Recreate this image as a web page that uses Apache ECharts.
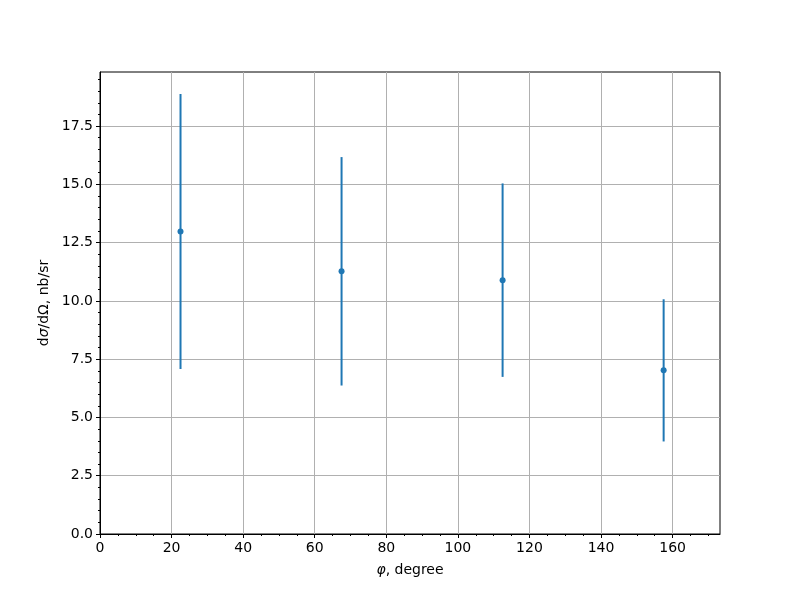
<!DOCTYPE html>
<html>
<head>
<meta charset="utf-8">
<script src="https://cdn.jsdelivr.net/npm/echarts@6/dist/echarts.min.js"></script>
<style>html,body{margin:0;padding:0;background:#fff;}#c{width:800px;height:600px;}</style>
</head>
<body>
<div id="c"></div>
<script>
// Data
const phi = [22.5, 67.5, 112.5, 157.5];
const xsec = [12.98, 11.27, 10.89, 7.02];
const err = [5.9, 4.9, 4.15, 3.05];
const xTickLabels = [0, 20, 40, 60, 80, 100, 120, 140, 160];
const yTickLabels = [0, 2.5, 5, 7.5, 10, 12.5, 15, 17.5];
const xMinorTicks = [5,10,15,25,30,35,45,50,55,65,70,75,85,90,95,105,110,115,125,130,135,145,150,155,165,170];
const yMinorTicks = [0.5,1,1.5,2,3,3.5,4,4.5,5.5,6,6.5,7,8,8.5,9,9.5,10.5,11,11.5,12,13,13.5,14,14.5,15.5,16,16.5,17,18,18.5,19,19.5];
const xMax = 173.25;
const yMax = 19.82;

const C = '#1f77b4';
const font = 'DejaVu Sans';
const chart = echarts.init(document.getElementById('c'), null, {renderer: 'canvas'});

const pts = phi.map((x, i) => [x, xsec[i]]);
const bars = phi.map((x, i) => [x, xsec[i] - err[i], xsec[i] + err[i]]);

const baseAxis = {
  type: 'value'
};

chart.setOption({
  animation: false,
  backgroundColor: '#fff',
  grid: {left: 100, right: 80, top: 72, bottom: 66, show: true, borderColor: '#000', borderWidth: 1, backgroundColor: 'transparent'},
  xAxis: [{
    type: 'value', min: 0, max: xMax, position: 'bottom',
    name: '{i|φ}, degree', nameLocation: 'middle', nameGap: 29,
    nameTextStyle: {fontFamily: font, fontSize: 14, color: '#000', rich: {i: {fontFamily: font, fontStyle: 'italic', fontSize: 14, color: '#000'}}},
    axisLine: {show: true, onZero: false, lineStyle: {color: '#000', width: 1}},
    axisTick: {show: true, inside: false, length: 4, customValues: xTickLabels, lineStyle: {color: '#000', width: 1}},
    axisLabel: {show: true, margin: 7, customValues: xTickLabels, fontFamily: font, fontSize: 14, color: '#000'},
    splitLine: {show: true, lineStyle: {color: '#b0b0b0', width: 1}},
    minorTick: {show: false}
  }, {
    type: 'value', min: 0, max: xMax, position: 'bottom',
    axisLine: {show: false},
    axisTick: {show: true, inside: false, length: 2, customValues: xMinorTicks, lineStyle: {color: '#000', width: 1}},
    axisLabel: {show: false},
    splitLine: {show: false}
  }],
  yAxis: [{
    type: 'value', min: 0, max: yMax, position: 'left',
    name: 'd{i|σ}/dΩ, nb/sr', nameLocation: 'middle', nameGap: 47, nameRotate: 90,
    nameTextStyle: {fontFamily: font, fontSize: 14, color: '#000', rich: {i: {fontFamily: font, fontStyle: 'italic', fontSize: 14, color: '#000'}}},
    axisLine: {show: true, onZero: false, lineStyle: {color: '#000', width: 1}},
    axisTick: {show: true, inside: false, length: 4, customValues: yTickLabels, lineStyle: {color: '#000', width: 1}},
    axisLabel: {show: true, margin: 7, customValues: yTickLabels, fontFamily: font, fontSize: 14, color: '#000', formatter: v => Number(v).toFixed(1)},
    splitLine: {show: true, lineStyle: {color: '#b0b0b0', width: 1}}
  }, {
    type: 'value', min: 0, max: yMax, position: 'left',
    axisLine: {show: false},
    axisTick: {show: true, inside: false, length: 2, customValues: yMinorTicks, lineStyle: {color: '#000', width: 1}},
    axisLabel: {show: false},
    splitLine: {show: false}
  }],
  series: [{
    type: 'custom',
    xAxisIndex: 0, yAxisIndex: 0,
    data: bars,
    renderItem: function (params, api) {
      const x = api.value(0);
      const lo = api.coord([x, api.value(1)]);
      const hi = api.coord([x, api.value(2)]);
      return {
        type: 'line',
        shape: {x1: lo[0], y1: lo[1], x2: hi[0], y2: hi[1]},
        style: {stroke: C, lineWidth: 2}
      };
    },
    z: 2
  }, {
    type: 'scatter',
    xAxisIndex: 0, yAxisIndex: 0,
    data: pts,
    symbol: 'circle',
    symbolSize: 6,
    itemStyle: {color: C, opacity: 1},
    z: 3
  }]
});
</script>
</body>
</html>
